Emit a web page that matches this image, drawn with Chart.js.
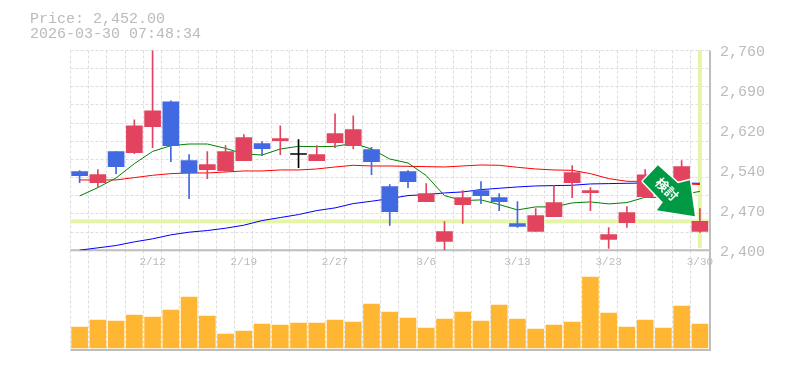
<!DOCTYPE html>
<html>
<head>
<meta charset="utf-8">
<style>
  html, body { margin: 0; padding: 0; background: #fff; }
  #wrap { width: 785px; height: 370px; position: relative; }
  canvas { display: block; }
</style>
<script src="https://cdn.jsdelivr.net/npm/chart.js@4/dist/chart.umd.min.js"></script>
</head>
<body>
<div id="wrap"><canvas id="chart" width="785" height="370"></canvas></div>
<script>
const dates = ['2/5','2/6','2/9','2/10','2/12','2/13','2/16','2/17','2/18','2/19','2/20','2/24','2/25','2/26','2/27','3/2','3/3','3/4','3/5','3/6','3/9','3/10','3/11','3/12','3/13','3/16','3/17','3/18','3/19','3/23','3/24','3/25','3/26','3/27','3/30'];
const bodyTop = [2541.6,2536.2,2577.6,2624.4,2651.4,2667.6,2561.4,2554.2,2577.6,2602.8,2592,2601,2574,2572.2,2610,2617.2,2581.2,2514.6,2541.6,2502,2433.6,2494.8,2507.4,2494.8,2448,2462.4,2485.8,2539.8,2507.4,2428.2,2467.8,2536,2515,2550.6,2452];
const bodyBot = [2534.4,2521.8,2550.6,2575.8,2622.6,2588.4,2539.2,2545.2,2543.4,2561.4,2583,2597.4,2572.6,2561.4,2593.8,2588.4,2559.6,2469.6,2523.6,2487.6,2415.6,2482.2,2498.4,2487.6,2442.6,2433.6,2460.6,2521.8,2503.8,2419.2,2449.8,2496.6,2498,2524,2433.6];
const highs = [2543.4,2545.2,2577.6,2635.2,2770,2669.4,2572.2,2577.6,2588.4,2608.2,2595.6,2624.4,2599.2,2588.4,2646,2642.4,2585.4,2518.2,2543.4,2520,2451.6,2507.4,2523.6,2502,2487.6,2475,2516.4,2552.4,2512.8,2440.8,2478.6,2545.2,2520,2561.4,2475];
const lows = [2521.8,2512.8,2538,2574,2584.8,2559.6,2493,2529,2541.6,2561.4,2570.4,2572.2,2548.8,2561.4,2584.8,2583,2536.2,2444.4,2512.8,2487.6,2400,2448,2484,2471.4,2440.8,2433.6,2460.6,2494.8,2471.4,2403,2440.8,2496.6,2490,2524,2431.8];
const candleKind = ['down','up','down','up','up','down','down','up','up','up','down','up','flat','up','up','up','down','down','down','up','up','up','down','down','down','up','up','up','up','up','up','up','up','up','up'];
const maShort = [2497.8,2512.8,2530.2,2556,2578,2588.4,2591.4,2591.4,2583.6,2573.4,2571.6,2582.4,2587.2,2586.6,2587.2,2592.6,2582.4,2564.4,2557.2,2534.4,2498.4,2489.4,2490.6,2482.2,2472.6,2478,2478,2485.2,2487,2483.4,2485.8,2495.4,2495,2500,2506];
const maMid = [2526.6,2526.6,2526.6,2530.8,2535,2538,2539.2,2539.2,2541,2542.8,2542.8,2544.6,2544.6,2546.4,2550,2553,2551.8,2551.8,2551.2,2550.6,2550,2551.8,2553.6,2553,2549.4,2546.4,2544.6,2544,2538,2529,2524.2,2524,2522,2520,2518.3];
const maLong = [2400,2404.2,2408.4,2415,2420.4,2427.6,2432.4,2435.4,2439.6,2445,2453.4,2458.8,2464.2,2471.4,2476.2,2484,2488.2,2493,2498.4,2500.2,2503.2,2505,2509.2,2511.6,2514,2515.8,2516.4,2517,2519.4,2520,2520.6,2521,2521,2521,2520.6];
const volumes = [21,28,27,33,31,38,51,32,14,17,24,23,25,25,28,26,44,36,30,20,29,36,27,43,29,19,23,26,71,35,21,28,20,42,24];
const priceTicks = [2400,2472,2544,2616,2688,2760];
const priceTickLabels = ['2,400','2,470','2,540','2,620','2,690','2,760'];
const lastPrice = 2452;
const headerLines = ['Price: 2,452.00','2026-03-30 07:48:34'];
const arrowText = '検討';

const TEXT = '#bbbbbb', GRID = '#dddddd', FRAME = '#bdbdbd', MARK = '#e5f5a8';
const kindColor = { up: '#e2445f', down: '#4169e1', flat: '#000000' };
const monoFont = '"Liberation Mono", monospace';
const gridCount = 11, yMin = 2400, yMax = 2760;

const pairs = (a, b) => a.map((v, i) => [b[i], v]);

const chartDecor = {
  id: 'chartDecor',
  // last price cross sits under the candles
  beforeDatasetsDraw(chart) {
    const { ctx, chartArea: a, scales } = chart;
    const yp = scales.y.getPixelForValue(lastPrice);
    const xp = scales.x.getPixelForValue(dates.length - 1);
    const y0 = scales.y.getPixelForValue(yMin);
    ctx.save();
    ctx.fillStyle = MARK;
    ctx.fillRect(a.left, yp - 2, a.right - a.left + 1, 4);
    ctx.fillRect(xp - 2, a.top, 4, y0 - a.top - 2);
    ctx.strokeStyle = FRAME;
    ctx.lineWidth = 2;
    ctx.beginPath();
    ctx.moveTo(a.left, y0); ctx.lineTo(a.right + 2, y0);
    ctx.moveTo(a.left, a.bottom); ctx.lineTo(a.right + 2, a.bottom);
    ctx.moveTo(a.right + 1, a.top); ctx.lineTo(a.right + 1, a.bottom);
    ctx.stroke();
    ctx.restore();
  },
  afterDraw(chart) {
    const { ctx, scales } = chart;
    ctx.save();
    ctx.fillStyle = TEXT;
    ctx.font = '15px ' + monoFont;
    ctx.textBaseline = 'alphabetic';
    ctx.fillText(headerLines[0], 30, 23);
    ctx.fillText(headerLines[1], 30, 38);

    // signal arrow pointing at the last candle
    const tx = scales.x.getPixelForValue(dates.length - 1) - 5;
    const ty = scales.y.getPixelForValue(lastPrice) - 5;
    ctx.translate(tx, ty);
    ctx.beginPath();
    [[0,0],[-38,-6],[-32,-14],[-52,-35],[-37,-51],[-17,-33],[-5,-36]].forEach((p, i) => i ? ctx.lineTo(p[0], p[1]) : ctx.moveTo(p[0], p[1]));
    ctx.closePath();
    ctx.lineJoin = 'round';
    ctx.lineWidth = 3;
    ctx.strokeStyle = '#ffffff';
    ctx.stroke();
    ctx.fillStyle = '#009944';
    ctx.fill();
    ctx.translate(-28, -27);
    ctx.rotate(Math.PI / 4);
    ctx.fillStyle = '#ffffff';
    ctx.font = 'bold 13px "Noto Sans CJK JP"';
    ctx.textAlign = 'center';
    ctx.textBaseline = 'middle';
    ctx.fillText(arrowText, 0, 0);
    ctx.restore();
  }
};

new Chart(document.getElementById('chart'), {
  data: {
    labels: dates,
    datasets: [
      { type: 'line', data: maLong, borderColor: '#0000ff', borderWidth: 1, pointRadius: 0, tension: 0, order: 5, yAxisID: 'y' },
      { type: 'line', data: maMid, borderColor: '#ff0000', borderWidth: 1, pointRadius: 0, tension: 0, order: 4, yAxisID: 'y' },
      { type: 'line', data: maShort, borderColor: '#008000', borderWidth: 1, pointRadius: 0, tension: 0, order: 3, yAxisID: 'y' },
      { type: 'bar', data: pairs(highs, lows), backgroundColor: candleKind.map(k => kindColor[k]), barThickness: 1, grouped: false, order: 2, yAxisID: 'y' },
      { type: 'bar', data: pairs(bodyTop, bodyBot), backgroundColor: candleKind.map(k => kindColor[k]), barThickness: 16, grouped: false, order: 1, yAxisID: 'y' },
      { type: 'bar', data: volumes, backgroundColor: '#ffb733', barThickness: 16, grouped: false, order: 1, yAxisID: 'yVol' }
    ]
  },
  options: {
    responsive: false,
    animation: false,
    layout: { padding: { left: 70.5, top: 50.5, right: 0, bottom: 19.5 } },
    plugins: { legend: { display: false }, tooltip: { enabled: false } },
    scales: {
      x: {
        type: 'category',
        position: { y: yMin },
        offset: true,
        grid: { offset: true, color: GRID, drawTicks: false },
        border: { display: false, dash: [3, 2] },
        ticks: {
          autoSkip: false, maxRotation: 0, padding: 5, color: TEXT,
          font: { family: monoFont, size: 11 },
          callback: (v, i) => i % 5 === 4 ? dates[i] : ''
        }
      },
      y: {
        position: 'right', stack: 'panels', stackWeight: 2, min: yMin, max: yMax,
        afterFit: s => { s.width = 76; },
        afterBuildTicks: s => {
          const out = priceTicks.map(value => ({ value }));
          for (let i = 1; i < gridCount; i++) out.push({ value: yMin + i * (yMax - yMin) / gridCount, minor: true });
          s.ticks = out.sort((a, b) => a.value - b.value);
        },
        grid: {
          color: c => c.tick && !priceTicks.slice(1, -1).includes(c.tick.value) ? GRID : 'transparent',
          drawTicks: false
        },
        border: { display: false, dash: [3, 2] },
        ticks: {
          autoSkip: false, padding: 11, color: TEXT, labelOffset: 2,
          font: { family: monoFont, size: 15 },
          callback: v => { const i = priceTicks.indexOf(v); return i < 0 ? '' : priceTickLabels[i]; }
        }
      },
      yVol: {
        position: 'right', stack: 'panels', stackWeight: 1, min: -2, max: 98,
        afterFit: s => { s.width = 76; },
        grid: { display: false },
        border: { display: false },
        ticks: { display: false }
      }
    }
  },
  plugins: [chartDecor]
});
</script>
</body>
</html>
